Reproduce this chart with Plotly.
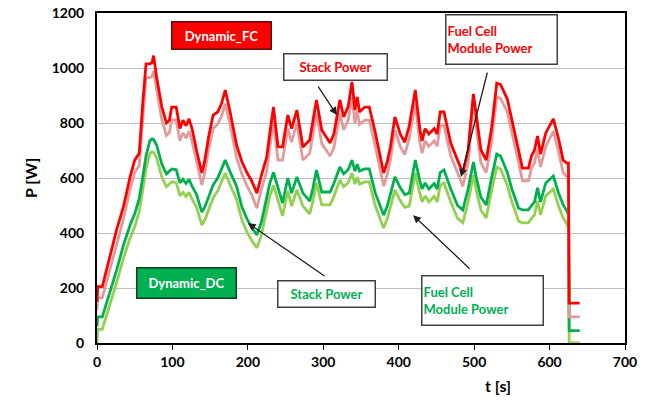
import plotly.graph_objects as go

# time [s]
t_s = [0, 1, 7, 17, 26, 35, 44, 50, 56, 61,
       65, 70, 73, 75, 79, 86, 92, 96, 99, 105,
       110, 114, 118, 122, 126, 132, 139, 143, 148, 154,
       160, 165, 170, 176, 185, 192, 199, 205, 212, 218,
       225, 229, 234, 240, 246, 253, 258, 265, 273, 282,
       286, 291, 298, 304, 309, 314, 318, 322, 327, 333,
       338, 342, 345, 348, 355, 361, 369, 375, 380, 385,
       389, 395, 402, 408, 414, 422, 428, 431, 435, 440,
       447, 451, 455, 460, 469, 478, 485, 492, 499, 503,
       509, 516, 523, 530, 535, 544, 550, 559, 564, 572,
       576, 580, 584, 588, 595, 605, 612, 618, 623, 625,
       626, 640]

fc_stack = [150, 205, 205, 313, 411, 495, 605, 665, 690, 884,
            1015, 1015, 1020, 1045, 967, 858, 800, 810, 858, 858,
            780, 810, 790, 815, 780, 700, 618, 665, 750, 829,
            840, 870, 920, 847, 720, 660, 618, 590, 545, 610,
            676, 760, 858, 713, 713, 829, 780, 847, 713, 738,
            800, 884, 775, 750, 727, 760, 822, 884, 822, 860,
            949, 847, 895, 840, 858, 858, 764, 690, 618, 660,
            713, 822, 760, 730, 790, 920, 778, 735, 780, 760,
            780, 760, 840, 840, 727, 665, 618, 702, 906, 826,
            702, 665, 778, 945, 940, 887, 815, 702, 636, 636,
            680, 702, 753, 687, 764, 815, 742, 665, 654, 654,
            145, 145]

fc_module = [120, 164, 164, 268, 365, 450, 560, 620, 645, 835,
             965, 965, 970, 990, 920, 810, 755, 765, 810, 810,
             735, 765, 745, 770, 735, 655, 575, 620, 705, 780,
             795, 825, 870, 800, 675, 615, 570, 540, 490, 560,
             625, 710, 805, 665, 665, 780, 730, 800, 665, 690,
             750, 835, 725, 700, 680, 710, 775, 835, 775, 810,
             895, 800, 845, 795, 810, 810, 715, 640, 570, 615,
             665, 775, 715, 685, 745, 870, 730, 690, 735, 715,
             735, 715, 790, 790, 680, 620, 570, 655, 855, 780,
             655, 620, 730, 895, 890, 840, 770, 655, 590, 590,
             635, 655, 705, 640, 715, 770, 695, 620, 605, 605,
             95, 95]

dc_stack = [60, 95, 95, 180, 265, 355, 430, 470, 525, 610,
            680, 735, 742, 740, 720, 650, 615, 625, 633, 630,
            582, 595, 580, 595, 570, 540, 476, 495, 530, 575,
            600, 630, 665, 625, 570, 495, 450, 420, 393, 440,
            531, 580, 620, 565, 509, 600, 545, 604, 545, 516,
            560, 629, 549, 549, 549, 580, 610, 640, 615, 630,
            665, 625, 650, 625, 633, 633, 545, 500, 465, 500,
            540, 604, 565, 540, 545, 665, 590, 560, 582, 560,
            580, 560, 620, 629, 560, 500, 484, 560, 658, 600,
            530, 502, 600, 687, 680, 620, 560, 490, 484, 484,
            500, 513, 564, 513, 582, 607, 545, 502, 480, 465,
            45, 45]

dc_module = [0, 50, 50, 135, 220, 308, 383, 423, 478, 563,
             633, 688, 695, 693, 673, 603, 568, 578, 586, 583,
             535, 548, 533, 548, 523, 493, 429, 448, 483, 528,
             553, 583, 618, 578, 523, 448, 403, 373, 346, 393,
             484, 533, 573, 518, 462, 553, 498, 557, 498, 469,
             513, 582, 502, 502, 502, 533, 563, 593, 568, 583,
             618, 578, 603, 578, 586, 586, 498, 453, 418, 453,
             493, 557, 518, 493, 498, 618, 543, 513, 535, 513,
             533, 513, 573, 582, 513, 453, 437, 513, 611, 553,
             483, 455, 553, 640, 633, 573, 513, 443, 437, 437,
             453, 466, 517, 466, 535, 560, 498, 455, 433, 418,
             0, 0]

x_ticks = [0, 100, 200, 300, 400, 500, 600, 700]
y_ticks = [0, 200, 400, 600, 800, 1000, 1200]

RED = "#FF0000"
PINK = "#E39A9A"
DGREEN = "#00B050"
LGREEN = "#92D050"
FONT = "Lato"

fig = go.Figure()
for y, c in [(dc_module, LGREEN), (dc_stack, DGREEN), (fc_module, PINK), (fc_stack, RED)]:
    fig.add_trace(go.Scatter(x=t_s, y=y, mode="lines",
                             line=dict(color=c, width=2.8), showlegend=False))

fig.update_layout(
    width=652, height=407, autosize=False,
    margin=dict(l=97, r=27, t=13, b=64, pad=0),
    paper_bgcolor="white", plot_bgcolor="white",
    font=dict(family=FONT, size=14, color="black"),
)
fig.update_xaxes(range=[0, 700], tickvals=x_ticks, ticktext=[f"<b>{v}</b>" for v in x_ticks],
                 showgrid=False, zeroline=False, showline=True, linecolor="black",
                 linewidth=2, mirror=True, ticks="outside", ticklen=5,
                 tickcolor="black", tickwidth=1, automargin=False)
fig.update_yaxes(range=[0, 1200], tickvals=y_ticks, ticktext=[f"<b>{v}</b>" for v in y_ticks],
                 showgrid=True, gridcolor="#BFBFBF", gridwidth=1, zeroline=False,
                 showline=True, linecolor="black", linewidth=2, mirror=True, ticks="",
                 ticklabelstandoff=8, automargin=False)

def box(x, y, text, color, bg, w, h, border="#404040", align="center"):
    fig.add_annotation(x=x, y=y, xref="x", yref="y", text=text, showarrow=False,
                       xanchor="center", yanchor="middle",
                       font=dict(family=FONT, size=13, color=color),
                       bgcolor=bg, bordercolor=border, borderwidth=1.5,
                       width=w, height=h, align=align)

def arrow(x, y, ax, ay):
    fig.add_annotation(x=x, y=y, ax=ax, ay=ay, xref="x", yref="y", axref="x", ayref="y",
                       text="", showarrow=True, arrowhead=2, arrowsize=1.2,
                       arrowwidth=1.3, arrowcolor="#202020")

box(165, 1120, "<b>Dynamic_FC</b>", "white", RED, 96, 24, border="#5a1010")
box(118.7, 220, "<b>Dynamic_DC</b>", "white", DGREEN, 96, 27, border="#104020")
box(316.2, 1002, "<b>Stack Power</b>", RED, "white", 100, 23)
box(535.6, 1102, "<b>Fuel Cell<br>Module Power</b>", RED, "white", 108, 46, align="left")
box(303.6, 180, "<b>Stack Power</b>", DGREEN, "white", 94, 23)
box(511.7, 153, "<b>Fuel Cell<br>Module Power</b>", DGREEN, "white", 118, 46, align="left")

arrow(318, 829, 292, 938)
arrow(482.6, 604, 518, 989)
arrow(200, 436, 303.6, 240)
arrow(419, 465, 496, 265)

# axis titles, placed by pixel position converted to paper coordinates
for px, py, txt, ang in [(30, 178, "<b>P [W]</b>", -90), (498, 385, "<b>t [s]</b>", 0)]:
    fig.add_annotation(x=(px - 97) / 528, y=(343 - py) / 330, xref="paper", yref="paper",
                       text=txt, showarrow=False, textangle=ang,
                       xanchor="center", yanchor="middle",
                       font=dict(family=FONT, size=16))

fig.write_html("out.html")
